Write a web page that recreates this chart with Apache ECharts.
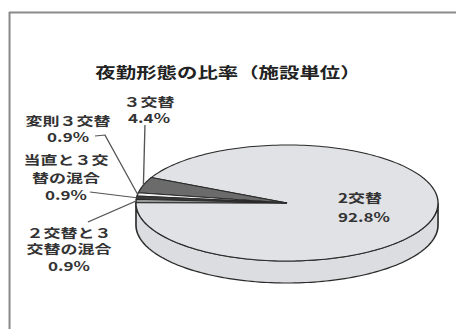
<!DOCTYPE html>
<html><head><meta charset="utf-8">
<script src="https://cdn.jsdelivr.net/npm/echarts@6/dist/echarts.min.js"></script>
<style>
html,body{margin:0;padding:0;background:#fff;overflow:hidden;}
#wrap{width:456px;height:329px;position:relative;overflow:hidden;}
#chart{width:335px;height:329px;position:absolute;left:0;top:0;transform:scaleX(1.36119);transform-origin:0 0;}
</style></head>
<body><div id="wrap"><div id="chart"></div></div>
<script>
// ---- data ----
const titleText = '夜勤形態の比率（施設単位）';
const categories = ['2交替', '３交替', '変則３交替', '当直と３交替の混合', '２交替と３交替の混合'];
const labelNames = ['2交替', '３交替', '変則３交替', '当直と３交\n替の混合', '２交替と３\n交替の混合'];
const values = [92.8, 4.4, 0.9, 0.9, 0.9];

// ---- style / layout ----
const sliceColors = ['#e1e2e5', '#6b6b6b', '#f2f2f2', '#3a3a3a', '#9a9a9a'];
const sideColor = '#dcdde0';
const START_ANGLE = 179.6;   // degrees, counter-clockwise
const THICK = 22;            // pixel depth of the 3D side
const labelLayout = [
  {x: 248.3, y: 207.5, lh: 19, align: 'left', leader: null},
  {x: 109.5, y: 109.5, lh: 16, align: 'center', leader: [[106.5, 125]]},
  {x: 50.0, y: 128.5, lh: 16, align: 'center', leader: [[69.8, 136], [77.1, 135]]},
  {x: 48.5, y: 177.5, lh: 17.5, align: 'center', leader: [[66.1, 192]]},
  {x: 50.7, y: 248.7, lh: 16.5, align: 'center', leader: [[64.6, 222]]}
];

const total = values.reduce((a, b) => a + b, 0);
const startDeg = [], endDeg = [];
let acc = START_ANGLE;
values.forEach(v => { startDeg.push(acc); acc += v / total * 360; endDeg.push(acc); });

const rad = d => d * Math.PI / 180;
function arcPts(api, a0, a1) {
  const n = Math.max(2, Math.ceil((a1 - a0) / 1.5));
  const pts = [];
  for (let k = 0; k <= n; k++) {
    const a = rad(a0 + (a1 - a0) * k / n);
    pts.push(api.coord([Math.cos(a), Math.sin(a)]));
  }
  return pts;
}

const chart = echarts.init(document.getElementById('chart'), null, {renderer: 'svg'});
const data = values.map((v, i) => ({name: categories[i], value: [v, i]}));

chart.setOption({
  backgroundColor: '#fff',
  animation: false,
  title: {
    text: titleText, left: 'center', top: 64, padding: 0,
    textStyle: {fontFamily: 'Noto Sans CJK JP', fontWeight: 'bold', fontSize: 15, color: '#222'}
  },
  graphic: [
    {type: 'line', shape: {x1: 6.6, y1: 12.5, x2: 340, y2: 12.5}, style: {stroke: '#8a8a8a', lineWidth: 2}},
    {type: 'line', shape: {x1: 7.0, y1: 12, x2: 7.0, y2: 340}, style: {stroke: '#8a8a8a', lineWidth: 1.5}}
  ],
  grid: {left: 99.9, width: 221.9, top: 145, height: 116},
  xAxis: {type: 'value', min: -1, max: 1, show: false},
  yAxis: {type: 'value', min: -1, max: 1, show: false},
  series: [
    { // side walls
      type: 'custom', z: 1, data: data, silent: true,
      renderItem: function (params, api) {
        const i = params.dataIndex;
        const children = [];
        [0, 360].forEach(k => {
          const lo = Math.max(startDeg[i], 180 + k), hi = Math.min(endDeg[i], 360 + k);
          if (hi > lo) {
            const top = arcPts(api, lo, hi);
            const bot = top.map(p => [p[0], p[1] + THICK]).reverse();
            children.push({type: 'polygon', shape: {points: top.concat(bot)},
              style: {fill: sideColor, stroke: '#2a2a2a', lineWidth: 1.2}});
          }
        });
        return {type: 'group', children: children};
      }
    },
    { // top faces
      type: 'custom', z: 2, data: data, silent: true,
      renderItem: function (params, api) {
        const i = params.dataIndex;
        const pts = [api.coord([0, 0])].concat(arcPts(api, startDeg[i], endDeg[i]));
        return {type: 'polygon', shape: {points: pts},
          style: {fill: sliceColors[i], stroke: '#2a2a2a', lineWidth: 1}};
      }
    },
    { // labels + leader lines
      type: 'custom', z: 3, data: data, silent: true,
      renderItem: function (params, api) {
        const i = params.dataIndex;
        const L = labelLayout[i];
        const children = [];
        if (L.leader) {
          const mid = rad((startDeg[i] + endDeg[i]) / 2);
          const p = api.coord([Math.cos(mid), Math.sin(mid)]);
          children.push({type: 'polyline', shape: {points: L.leader.concat([p])},
            style: {stroke: '#555', lineWidth: 1, fill: null}});
        }
        children.push({type: 'text', style: {
          text: labelNames[i] + '\n' + api.value(0) + '%',
          x: L.x, y: L.y, align: L.align, verticalAlign: 'middle',
          fontFamily: 'Noto Sans CJK JP', fontWeight: 'bold', fontSize: 12.5,
          lineHeight: L.lh, fill: '#333'
        }});
        return {type: 'group', children: children};
      }
    }
  ]
});
</script>
</body></html>
